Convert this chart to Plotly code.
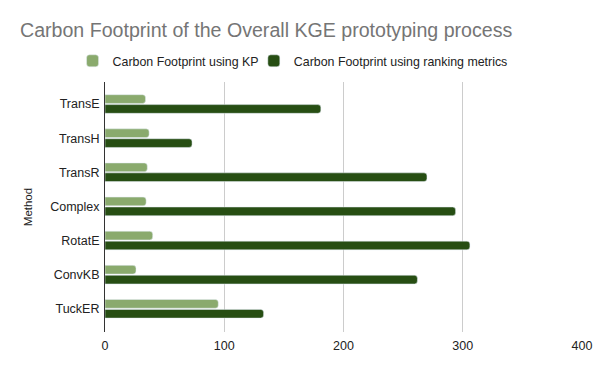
import plotly.graph_objects as go

methods = ["TransE", "TransH", "TransR", "Complex", "RotatE", "ConvKB", "TuckER"]
kp_values = [34, 37, 35.5, 34.5, 40, 26, 95]
ranking_values = [181, 73, 270, 294, 306, 262, 133]

fig = go.Figure()
fig.add_trace(go.Bar(y=methods, x=kp_values, orientation="h", legend="legend",
                     name="Carbon Footprint using KP", marker_color="#8aaa6d"))
fig.add_trace(go.Bar(y=methods, x=ranking_values, orientation="h", legend="legend2",
                     name="Carbon Footprint using ranking metrics", marker_color="#274e13"))

legend_style = dict(orientation="h", xanchor="left", y=1.083, yanchor="middle",
                    font=dict(size=12.4, color="#222222"), itemwidth=30,
                    bgcolor="rgba(0,0,0,0)")

fig.update_layout(
    width=600, height=371,
    margin=dict(l=105, r=18, t=82, b=39),
    paper_bgcolor="white", plot_bgcolor="white",
    font=dict(family="Liberation Sans, Arial, sans-serif", size=12, color="#222222"),
    title=dict(text="Carbon Footprint of the Overall KGE prototyping process",
               x=20 / 600, xanchor="left", y=1 - 30 / 371, yanchor="middle",
               font=dict(size=19.6, color="#757575")),
    barmode="group", bargap=0.42, bargroupgap=0.12, barcornerradius=3,
    legend=dict(legend_style, x=-0.068),
    legend2=dict(legend_style, x=0.312),
    showlegend=True,
)
fig.update_xaxes(range=[0, 400], dtick=100, showgrid=True, gridcolor="#cccccc",
                 zeroline=False, showline=False, ticks="", tickfont=dict(size=12.5),
                 ticklabelstandoff=4, automargin=False)
fig.update_yaxes(range=[6.68, -0.645], showline=True, linecolor="#333333", linewidth=1,
                 ticks="", ticklabelstandoff=2, automargin=False, tickfont=dict(size=12.5),
                 title=dict(text="Method", font=dict(size=11.5), standoff=15))

# the page body has a default 8px margin; drop it so the figure sits at 0,0
fig.write_html("out.html", config={"displayModeBar": False},
               post_script="document.body.style.margin='0';")
